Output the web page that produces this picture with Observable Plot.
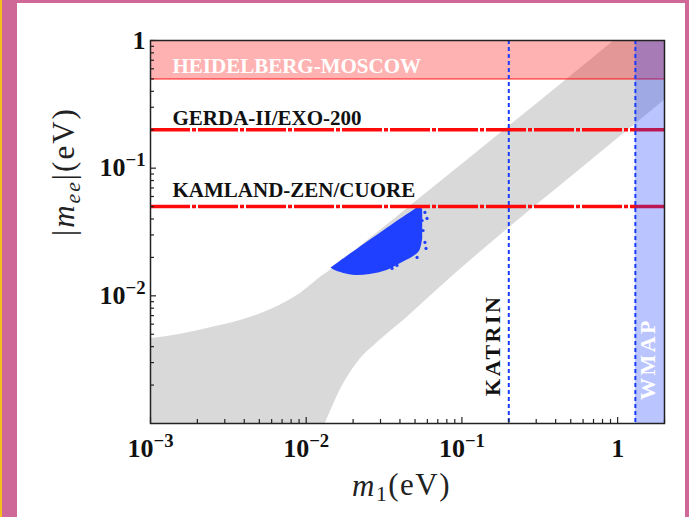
<!DOCTYPE html>
<html><head><meta charset="utf-8">
<script src="https://cdn.jsdelivr.net/npm/d3@7"></script>
<script src="https://cdn.jsdelivr.net/npm/@observablehq/plot@0.6"></script>
<style>
html,body{margin:0;padding:0;background:#fff;width:689px;height:517px;overflow:hidden;position:relative}
#chart{position:absolute;left:0;top:0}
.b{position:absolute;background:#cf6797}
</style></head><body>
<div id="chart"></div>
<div class="b" style="left:0;top:0;width:689px;height:3px"></div>
<div class="b" style="left:0;top:0;width:17px;height:517px"></div>
<div style="position:absolute;left:0;top:0;width:2px;height:517px;background:#f2c21a"></div>
<div class="b" style="left:685px;top:0;width:4px;height:517px"></div>
<script>
// ---- data ----
const xDomain = [0.001, 2];
const yDomain = [0.001, 1];

// allowed |m_ee| band (grey)
const bandM1    = [0.001, 0.0014, 0.00232, 0.00378, 0.00614, 0.00916, 0.0132, 0.0137, 0.0165, 0.0212, 0.0298, 0.0444, 0.0722, 0.2, 0.5, 1, 2];
const bandUpper = [0.00464, 0.0049, 0.00556, 0.00641, 0.00797, 0.01044, 0.0148, 0.01525, 0.0183, 0.0233, 0.0323, 0.048, 0.0775, 0.212, 0.525, 1.05, 2.1];
const bandLower = [0.001, 0.001, 0.001, 0.001, 0.001, 0.001, 0.001, 0.0011, 0.00182, 0.00296, 0.00448, 0.00678, 0.01163, 0.034, 0.085, 0.17, 0.34];

// model scatter region (blue)
const blobM1    = [0.01445, 0.0149, 0.0165, 0.0200, 0.0257, 0.0330, 0.0419, 0.0500, 0.0538, 0.0560];
const blobUpper = [0.01655, 0.0170, 0.0186, 0.0219, 0.0272, 0.0337, 0.0411, 0.0475, 0.0511, 0.0470];
const blobLower = [0.01655, 0.0161, 0.0153, 0.0145, 0.0147, 0.0158, 0.0183, 0.0207, 0.0227, 0.0280];
const dotM1  = [0.0432, 0.0465, 0.0500, 0.0515, 0.0538, 0.0563, 0.0579, 0.0588, 0.0555, 0.0579, 0.0383, 0.0356, 0.0451, 0.0485, 0.0597];
const dotMee = [0.0200, 0.0227, 0.0262, 0.0200, 0.0297, 0.0325, 0.0262, 0.0235, 0.0389, 0.0450, 0.0173, 0.0164, 0.0281, 0.0314, 0.0404];

// experimental limits
const hmRange = [0.5, 1];
const limitValues = [0.2, 0.05];
const katrinM1 = 0.2;
const wmapRange = [1.3, 2];

const expLabels = ["HEIDELBERG-MOSCOW", "GERDA-II/EXO-200", "KAMLAND-ZEN/CUORE"];
const expLabelY = [0.56, 0.216, 0.059];
const vertLabels = ["KATRIN", "WMAP"];
const vertLabelX = [0.2, 1.3];
const vertLabelY = [0.0041, 0.0032];

// ticks
const xMajor = [0.001, 0.01, 0.1, 1];
const xTickLabels = ["10^−3", "10^−2", "10^−1", "1"];
const xMinor = [0.002,0.003,0.004,0.005,0.006,0.007,0.008,0.009,0.02,0.03,0.04,0.05,0.06,0.07,0.08,0.09,0.2,0.3,0.4,0.5,0.6,0.7,0.8,0.9,2];
const yMajor = [1, 0.1, 0.01];
const yTickLabels = ["1", "10^−1", "10^−2"];
const yMinor = [0.002,0.003,0.004,0.005,0.006,0.007,0.008,0.009,0.02,0.03,0.04,0.05,0.06,0.07,0.08,0.09,0.2,0.3,0.4,0.5,0.6,0.7,0.8,0.9];
const titles = ["YTITLE", "XTITLE"];

// ---- build tables ----
const band = bandM1.map((m, i) => ({m, lo: bandLower[i], hi: bandUpper[i]}));
const blob = blobM1.map((m, i) => ({m, lo: blobLower[i], hi: blobUpper[i]}));
const dots = dotM1.map((m, i) => ({m, y: dotMee[i]}));
const expTbl = expLabels.map((t, i) => ({t, y: expLabelY[i]}));

const W = 689, H = 517, mL = 150, mR = 25, mT = 40, mB = 94;
const pw = W - mL - mR, ph = H - mT - mB;
const FONT = "Liberation Serif";
const BLUE = "#2040ff";

const svg = Plot.plot({
  width: W, height: H,
  marginLeft: mL, marginRight: mR, marginTop: mT, marginBottom: mB,
  style: {fontFamily: FONT, background: "transparent"},
  x: {type: "log", domain: xDomain},
  y: {type: "log", domain: yDomain},
  marks: [
    Plot.areaY(band, {x: "m", y1: "lo", y2: "hi", fill: "#d9d9d9", curve: "monotone-x", clip: true}),
    Plot.areaY(blob, {x: "m", y1: "lo", y2: "hi", fill: BLUE, curve: "catmull-rom"}),
    Plot.dot(dots, {x: "m", y: "y", r: 1.6, fill: BLUE}),
    Plot.rect([hmRange], {y1: d => d[0], y2: d => d[1], fill: "#ff0000", fillOpacity: 0.3}),
    Plot.ruleY([hmRange[0]], {stroke: "#ff0000", strokeWidth: 1}),
    Plot.ruleY(limitValues, {stroke: "#ff0a0a", strokeWidth: 3.5, strokeDasharray: "40,2,4,2"}),
    Plot.rect([wmapRange], {x1: d => d[0], x2: d => d[1], fill: "#1a3cff", fillOpacity: 0.3}),
    Plot.ruleX([katrinM1, wmapRange[0]], {stroke: "#1a3cff", strokeWidth: 2, strokeDasharray: "4,3"}),
    Plot.text(expTbl.slice(0, 1), {text: "t", y: "y", frameAnchor: "left", dx: 22, textAnchor: "start", lineAnchor: "bottom",
      fill: "white", fontSize: 21, fontWeight: "bold", fontFamily: FONT}),
    Plot.text(expTbl.slice(1), {text: "t", y: "y", frameAnchor: "left", dx: 22, textAnchor: "start", lineAnchor: "bottom",
      fill: "#111", fontSize: 21, fontWeight: "bold", fontFamily: FONT}),
    Plot.text([{t: vertLabels[0], x: vertLabelX[0], y: vertLabelY[0]}], {text: "t", x: "x", y: "y", rotate: -90, dx: -16,
      fill: "#111", fontSize: 22, fontWeight: "bold", fontFamily: FONT}),
    Plot.text([{t: vertLabels[1], x: vertLabelX[1], y: vertLabelY[1]}], {text: "t", x: "x", y: "y", rotate: -90, dx: 13,
      fill: "white", fontSize: 22, fontWeight: "bold", fontFamily: FONT}),
    Plot.frame({stroke: "#222", strokeWidth: 1.5}),
    Plot.tickX(xMinor, {x: d => d, insetTop: ph - 4, stroke: "#222", strokeWidth: 1.2}),
    Plot.tickX(xMajor, {x: d => d, insetTop: ph - 6, stroke: "#222", strokeWidth: 1.2}),
    Plot.tickY(yMinor, {y: d => d, insetRight: pw - 4, stroke: "#222", strokeWidth: 1.2}),
    Plot.tickY(yMajor, {y: d => d, insetRight: pw - 6, stroke: "#222", strokeWidth: 1.2}),
    Plot.axisX({ticks: xMajor, tickSize: 0, tickPadding: 15, tickFormat: d => xTickLabels[xMajor.indexOf(d)],
      fontSize: 26, fontWeight: "bold", label: null, fill: "#111"}),
    Plot.axisY({ticks: yMajor, tickSize: 0, tickPadding: 5, tickFormat: d => yTickLabels[yMajor.indexOf(d)],
      fontSize: 26, fontWeight: "bold", label: null, fill: "#111"}),
    Plot.text([titles[0]], {frameAnchor: "left", dx: -86, dy: 4, rotate: -90, fontSize: 31, fontFamily: FONT, fill: "#222"}),
    Plot.text([titles[1]], {frameAnchor: "bottom", dy: 72, dx: -6, fontSize: 31, fontFamily: FONT, fill: "#222"})
  ]
});
document.getElementById("chart").appendChild(svg);

// superscripts on tick labels
d3.select(svg).selectAll('g[aria-label="x-axis tick label"] text, g[aria-label="y-axis tick label"] text').each(function () {
  const s = this.textContent;
  if (s.includes("^")) {
    const [b, e] = s.split("^");
    const t = d3.select(this);
    t.text(null);
    t.append("tspan").text(b);
    t.append("tspan").attr("dy", "-0.55em").style("font-size", "72%").text(e);
  }
});
// axis titles with italic / subscripts; letter spacing for vertical labels
d3.select(svg).selectAll("text").each(function () {
  const s = this.textContent;
  const t = d3.select(this);
  if (s === "YTITLE") {
    t.text(null).style("letter-spacing", "2px");
    t.append("tspan").text("|");
    t.append("tspan").style("font-style", "italic").text("m");
    t.append("tspan").style("font-style", "italic").style("font-size", "70%").attr("dy", "0.25em").text("ee");
    t.append("tspan").attr("dy", "-0.18em").text("|(eV)");
  } else if (s === "XTITLE") {
    t.text(null).style("letter-spacing", "1.5px");
    t.append("tspan").style("font-style", "italic").text("m");
    t.append("tspan").style("font-size", "70%").attr("dy", "0.25em").text("1");
    t.append("tspan").attr("dy", "-0.18em").text("(eV)");
  } else if (vertLabels.includes(s)) {
    t.style("letter-spacing", "2.5px");
  }
});
</script>
</body></html>
